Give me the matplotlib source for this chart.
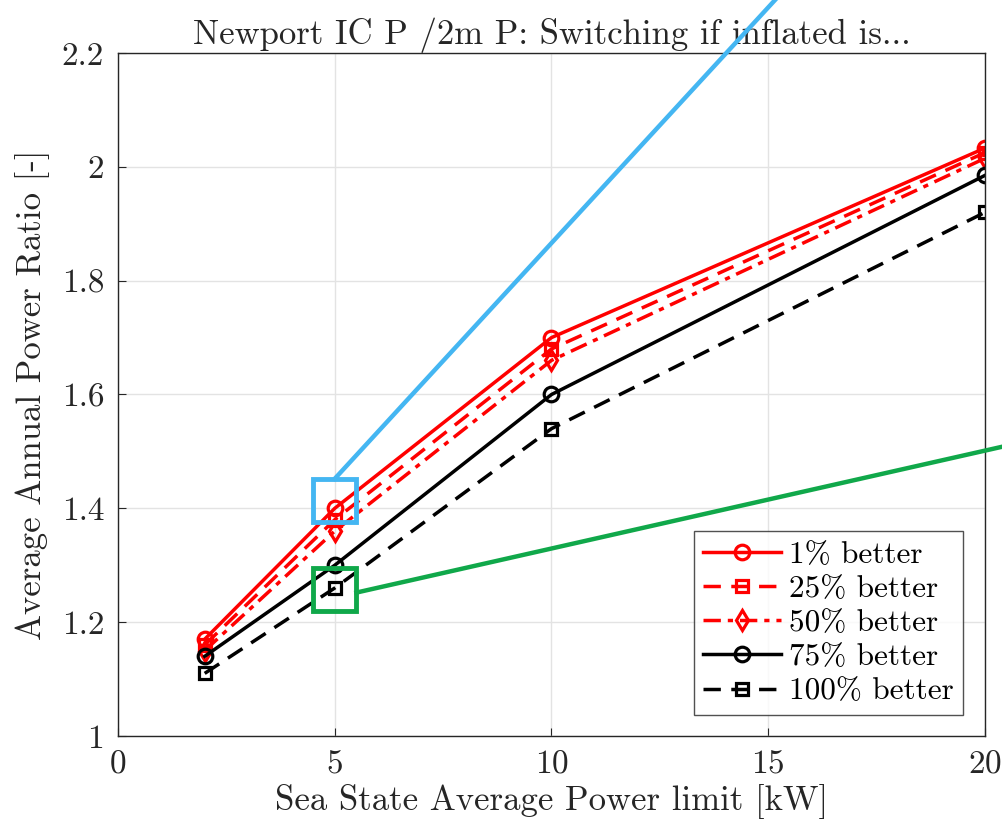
import numpy as np
import matplotlib
matplotlib.use('Agg')
import matplotlib.pyplot as plt
from matplotlib.patches import Rectangle

plt.rcParams['font.family'] = 'cmr10'
plt.rcParams['mathtext.fontset'] = 'cm'
plt.rcParams['axes.formatter.use_mathtext'] = True

# sea state power limits [kW]
power_limit = [2, 5, 10, 20]

# average annual power ratio for each switching threshold
ratio_1 = [1.17, 1.40, 1.70, 2.033]
ratio_25 = [1.16, 1.38, 1.68, 2.025]
ratio_50 = [1.15, 1.36, 1.66, 2.015]
ratio_75 = [1.14, 1.30, 1.60, 1.985]
ratio_100 = [1.11, 1.26, 1.54, 1.92]

labels = ['1% better', '25% better', '50% better', '75% better', '100% better']

fig = plt.figure(figsize=(10.03, 8.26), dpi=100)
ax = fig.add_axes([118 / 1003, 90 / 826, 867 / 1003, 683 / 826])

lw = 2.5
ms = 10.5
ax.plot(power_limit, ratio_1, '-o', color='red', lw=lw, ms=ms, mew=2.3, mfc='none', label=labels[0])
ax.plot(power_limit, ratio_25, '--s', color='red', lw=lw, ms=8.5, mew=2.3, mfc='none', label=labels[1],
        dashes=(5, 3))
ax.plot(power_limit, ratio_50, '-.d', color='red', lw=lw, ms=ms, mew=2.3, mfc='none', label=labels[2],
        dashes=(5, 2, 1.5, 2))
ax.plot(power_limit, ratio_75, '-o', color='black', lw=lw, ms=ms, mew=2.3, mfc='none', label=labels[3])
ax.plot(power_limit, ratio_100, '--s', color='black', lw=lw, ms=8.5, mew=2.3, mfc='none', label=labels[4],
        dashes=(5, 3))

# highlight boxes around the 5 kW points and pointer lines
blue = '#44b6f2'
green = '#10a84a'
ax.add_patch(Rectangle((4.5, 1.376), 1.0, 0.076, fill=False, ec=blue, lw=3.5, zorder=5))
ax.add_patch(Rectangle((4.5, 1.220), 1.0, 0.076, fill=False, ec=green, lw=3.5, zorder=5))
ax.plot([5.0, 15.3], [1.452, 2.305], color=blue, lw=3.2, clip_on=False, zorder=5)
ax.plot([5.5, 20.5], [1.252, 1.51], color=green, lw=3.2, clip_on=False, zorder=5)

ax.set_xlim(0, 20)
ax.set_ylim(1, 2.2)
ax.set_xticks([0, 5, 10, 15, 20])
ax.set_yticks([1, 1.2, 1.4, 1.6, 1.8, 2, 2.2])
ax.set_yticklabels(['1', '1.2', '1.4', '1.6', '1.8', '2', '2.2'])
ax.grid(True, color='#e3e3e3', lw=1)
ax.set_axisbelow(True)
ax.tick_params(direction='in', length=6, colors='#262626', labelsize=24, pad=10)
for s in ax.spines.values():
    s.set_color('#262626')
    s.set_linewidth(1.0)

ax.set_title('Newport IC P /2m P: Switching if inflated is...', fontsize=25, color='#262626', pad=6)
ax.set_xlabel('Sea State Average Power limit [kW]', fontsize=25, color='#262626', labelpad=4)
ax.set_ylabel('Average Annual Power Ratio [-]', fontsize=25, color='#262626', labelpad=8)

leg = ax.legend(loc='lower right', fontsize=22.5, frameon=True, fancybox=False, edgecolor='#262626',
                handlelength=2.5, handletextpad=0.25, borderpad=0.3, labelspacing=0.2,
                borderaxespad=0, bbox_to_anchor=(0.9746, 0.031))
leg.get_frame().set_linewidth(1.0)

fig.savefig('out.png', dpi=100)
